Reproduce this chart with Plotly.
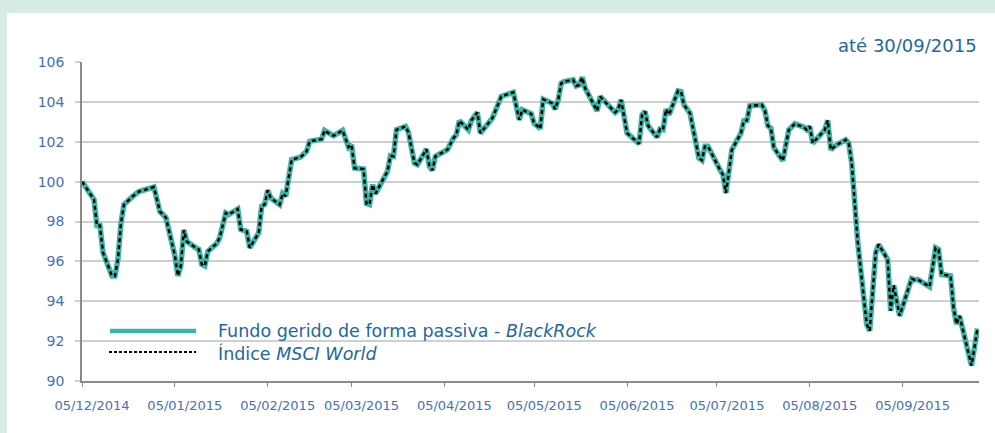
import plotly.graph_objects as go

# ---------------- data ----------------
dates = [
    "2014-12-05", "2014-12-09", "2014-12-10", "2014-12-11", "2014-12-12", "2014-12-15",
    "2014-12-16", "2014-12-17", "2014-12-18", "2014-12-19", "2014-12-22", "2014-12-24",
    "2014-12-29", "2014-12-31", "2015-01-02", "2015-01-05", "2015-01-06", "2015-01-07",
    "2015-01-08", "2015-01-09", "2015-01-12", "2015-01-13", "2015-01-14", "2015-01-15",
    "2015-01-16", "2015-01-19", "2015-01-20", "2015-01-22", "2015-01-23", "2015-01-26",
    "2015-01-27", "2015-01-29", "2015-01-30", "2015-02-02", "2015-02-03", "2015-02-04",
    "2015-02-05", "2015-02-06", "2015-02-09", "2015-02-10", "2015-02-11", "2015-02-13",
    "2015-02-16", "2015-02-18", "2015-02-19", "2015-02-23", "2015-02-24", "2015-02-26",
    "2015-02-27", "2015-03-02", "2015-03-04", "2015-03-05", "2015-03-06", "2015-03-09",
    "2015-03-10", "2015-03-11", "2015-03-12", "2015-03-13", "2015-03-17", "2015-03-18",
    "2015-03-19", "2015-03-20", "2015-03-23", "2015-03-24", "2015-03-26", "2015-03-27",
    "2015-03-30", "2015-03-31", "2015-04-01", "2015-04-02", "2015-04-06", "2015-04-08",
    "2015-04-09", "2015-04-10", "2015-04-13", "2015-04-14", "2015-04-16", "2015-04-17",
    "2015-04-21", "2015-04-24", "2015-04-28", "2015-04-30", "2015-05-01", "2015-05-04",
    "2015-05-05", "2015-05-06", "2015-05-07", "2015-05-08", "2015-05-11", "2015-05-12",
    "2015-05-13", "2015-05-14", "2015-05-15", "2015-05-18", "2015-05-19", "2015-05-20",
    "2015-05-21", "2015-05-22", "2015-05-26", "2015-05-27", "2015-05-28", "2015-06-01",
    "2015-06-02", "2015-06-03", "2015-06-05", "2015-06-09", "2015-06-10", "2015-06-11",
    "2015-06-12", "2015-06-15", "2015-06-16", "2015-06-17", "2015-06-18", "2015-06-19",
    "2015-06-22", "2015-06-23", "2015-06-24", "2015-06-26", "2015-06-29", "2015-06-30",
    "2015-07-01", "2015-07-02", "2015-07-06", "2015-07-07", "2015-07-08", "2015-07-10",
    "2015-07-13", "2015-07-14", "2015-07-15", "2015-07-16", "2015-07-20", "2015-07-21",
    "2015-07-22", "2015-07-23", "2015-07-24", "2015-07-27", "2015-07-29", "2015-07-31",
    "2015-08-03", "2015-08-04", "2015-08-05", "2015-08-06", "2015-08-10", "2015-08-11",
    "2015-08-12", "2015-08-14", "2015-08-17", "2015-08-18", "2015-08-19", "2015-08-20",
    "2015-08-21", "2015-08-24", "2015-08-25", "2015-08-27", "2015-08-28", "2015-08-31",
    "2015-09-01", "2015-09-02", "2015-09-04", "2015-09-08", "2015-09-09", "2015-09-10",
    "2015-09-14", "2015-09-16", "2015-09-17", "2015-09-18", "2015-09-21", "2015-09-22",
    "2015-09-23", "2015-09-24", "2015-09-28", "2015-09-30",
]

fundo_blackrock = [
    100.0, 99.1, 97.8, 97.8, 96.45, 95.27,
    95.27, 96.1, 97.9, 98.85, 99.27, 99.5,
    99.73, 98.5, 98.2, 96.3, 95.27, 95.77,
    97.57, 97.0, 96.68, 96.6, 95.85, 95.77,
    96.5, 96.9, 97.2, 98.43, 98.35, 98.63,
    97.6, 97.5, 96.68, 97.43, 98.77, 98.85,
    99.57, 99.18, 98.85, 99.4, 99.27, 101.1,
    101.23, 101.52, 102.02, 102.13, 102.57, 102.35,
    102.3, 102.57, 101.73, 101.85, 100.68, 100.63,
    98.9, 98.85, 99.85, 99.4, 100.52, 101.3,
    101.27, 102.6, 102.77, 102.47, 100.93, 100.85,
    101.63, 100.77, 100.57, 101.27, 101.6, 102.18,
    102.35, 103.05, 102.6, 103.07, 103.47, 102.43,
    103.18, 104.27, 104.48, 103.1, 103.6, 103.4,
    102.9, 102.8, 102.65, 104.13, 103.93, 103.63,
    104.1, 104.93, 105.02, 105.1, 104.8, 104.85,
    105.23, 104.68, 103.55, 104.27, 104.1, 103.47,
    103.6, 104.1, 102.43, 101.9, 103.35, 103.52,
    102.8, 102.23, 102.63, 102.6, 103.63, 103.35,
    104.55, 104.52, 103.85, 103.43, 101.18, 101.07,
    101.77, 101.77, 100.6, 100.35, 99.43, 101.6,
    102.43, 103.05, 103.07, 103.8, 103.85, 103.57,
    102.8, 102.68, 101.7, 101.05, 102.6, 102.9,
    102.73, 102.6, 102.77, 101.93, 102.6, 103.07,
    101.6, 101.85, 102.1, 101.93, 100.93, 99.0,
    97.0, 92.85, 92.52, 96.43, 96.85, 96.1,
    93.52, 94.8, 93.27, 95.13, 95.07, 95.1,
    94.73, 96.68, 96.6, 95.35, 95.27, 93.68,
    92.85, 93.27, 90.77, 92.63,
]

indice_msci_world = list(fundo_blackrock)  # the two series overlap in the picture

tick_dates = ["2014-12-05", "2015-01-05", "2015-02-05", "2015-03-05", "2015-04-05",
              "2015-05-05", "2015-06-05", "2015-07-05", "2015-08-05", "2015-09-05"]
tick_labels = ["05/12/2014", "05/01/2015", "05/02/2015", "05/03/2015", "05/04/2015",
               "05/05/2015", "05/06/2015", "05/07/2015", "05/08/2015", "05/09/2015"]
y_ticks = [90, 92, 94, 96, 98, 100, 102, 104, 106]

# ---------------- layout helpers ----------------
W, H = 995, 433
L, R, T, B = 82, 979, 62, 381  # plot box in pixels


def px_x(p):
    return (p - L) / (R - L)


def px_y(p):
    return (B - p) / (B - T)


TEAL = "#3db5a6"
TICK_BLUE = "#4670b6"
TEXT_BLUE = "#23689a"
FONT = "DejaVu Sans"

fig = go.Figure()
fig.add_trace(go.Scatter(
    x=dates, y=fundo_blackrock, mode="lines",
    line=dict(color=TEAL, width=5.5), name="Fundo gerido de forma passiva - BlackRock",
    showlegend=False, hoverinfo="skip",
))
fig.add_trace(go.Scatter(
    x=dates, y=indice_msci_world, mode="lines",
    line=dict(color="#000000", width=2.4, dash="4px,3px"), name="Índice MSCI World",
    showlegend=False, hoverinfo="skip",
))

shapes = [
    # page frame bands
    dict(type="rect", xref="paper", yref="paper", x0=px_x(-5), x1=px_x(W + 5),
         y0=px_y(13), y1=px_y(-5), fillcolor="#d6ebe5", line=dict(width=0), layer="below"),
    dict(type="rect", xref="paper", yref="paper", x0=px_x(-5), x1=px_x(7),
         y0=px_y(H + 5), y1=px_y(13), fillcolor="#d6ebe5", line=dict(width=0), layer="below"),
    # legend samples
    dict(type="line", xref="paper", yref="paper", x0=px_x(110), x1=px_x(196),
         y0=px_y(331), y1=px_y(331), line=dict(color=TEAL, width=4.5)),
    dict(type="line", xref="paper", yref="paper", x0=px_x(109), x1=px_x(196),
         y0=px_y(352), y1=px_y(352), line=dict(color="#000000", width=2, dash="3px,2px")),
]

annotations = [
    dict(text="até 30/09/2015", xref="paper", yref="paper", x=px_x(979), y=px_y(45),
         xanchor="right", yanchor="middle", showarrow=False,
         font=dict(family=FONT, size=18, color=TEXT_BLUE)),
    dict(text="Fundo gerido de forma passiva - <i>BlackRock</i>", xref="paper", yref="paper",
         x=px_x(216), y=px_y(331), xanchor="left", yanchor="middle", showarrow=False,
         font=dict(family=FONT, size=17.5, color=TEXT_BLUE)),
    dict(text="Índice <i>MSCI World</i>", xref="paper", yref="paper",
         x=px_x(216), y=px_y(353), xanchor="left", yanchor="middle", showarrow=False,
         font=dict(family=FONT, size=17.5, color=TEXT_BLUE)),
]

fig.update_layout(
    width=W, height=H,
    margin=dict(l=L, r=W - R, t=T, b=H - B, pad=0),
    paper_bgcolor="#ffffff", plot_bgcolor="#ffffff",
    showlegend=False,
    shapes=shapes, annotations=annotations,
    xaxis=dict(
        type="date", range=["2014-12-05", "2015-09-30 12:00"],
        tickmode="array", tickvals=tick_dates, ticktext=tick_labels,
        showgrid=False, zeroline=False,
        showline=True, linecolor="#8a8a8a", linewidth=1.5,
        ticks="outside", ticklen=4, tickcolor="#8a8a8a", tickwidth=1,
        ticklabelshift=10, ticklabelstandoff=8,
        tickfont=dict(family=FONT, size=13, color=TICK_BLUE),
    ),
    yaxis=dict(
        range=[90, 106], tickmode="array", tickvals=y_ticks,
        showgrid=True, gridcolor="#cfcfcf", gridwidth=1.5, zeroline=False,
        showline=True, linecolor="#8a8a8a", linewidth=1.5,
        ticks="outside", ticklen=5, tickcolor="#cfcfcf", tickwidth=1.5,
        ticklabelstandoff=8,
        tickfont=dict(family=FONT, size=14, color=TICK_BLUE),
    ),
)

fig.write_html("out.html", config={"displayModeBar": False},
               post_script="document.body.style.margin='0px';")
